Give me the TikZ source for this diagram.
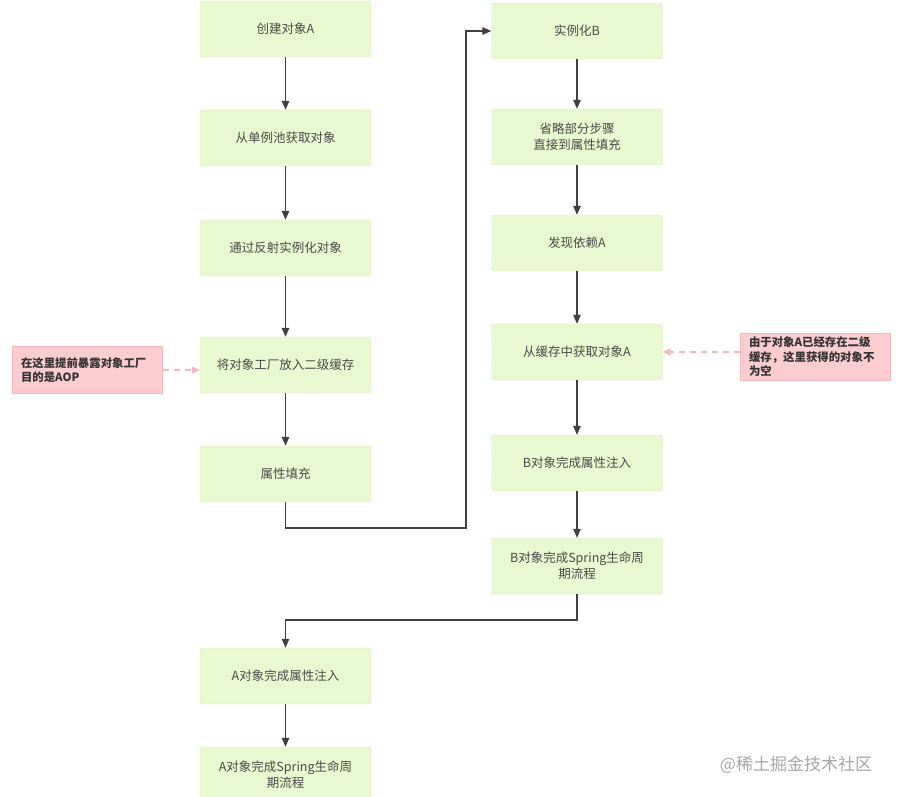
\documentclass[tikz,border=0pt]{standalone}
\usepackage{fontspec}
\setmainfont{Noto Sans CJK SC}
\usetikzlibrary{positioning, arrows.meta}
\definecolor{boxgreen}{HTML}{E8F8D0}
\definecolor{boxline}{HTML}{EDE6C4}
\definecolor{notepink}{HTML}{FBCDD0}
\definecolor{noteline}{HTML}{F4B8BC}
\definecolor{linegray}{HTML}{404040}
\definecolor{textgray}{HTML}{4A4A4A}

\begin{document}
\begin{tikzpicture}[x=1pt,y=-1pt,node distance=110pt,on grid,
    stepbox/.style={rectangle,rounded corners=2pt,fill=boxgreen,draw=boxline,
      minimum width=171pt,minimum height=56pt,align=center,text=textgray,
      font=\fontsize{12.5}{16}\selectfont},
    notebox/.style={rectangle,fill=notepink,draw=noteline,minimum width=150pt,
      minimum height=47pt,text width=133pt,inner xsep=8.5pt,align=left,text=black!80,
      font=\fontsize{11.4}{14.5}\selectfont\bfseries},
    flow/.style={draw=linegray,line width=1.3pt,-{Triangle[length=9pt,width=7.5pt]}},
    hint/.style={draw=noteline,line width=1.2pt,dashed,dash pattern=on 6pt off 5pt,
      -{Triangle[length=8pt,width=7pt,fill=noteline]}}]

    \useasboundingbox (0,0) rectangle (898,797);

    % left column: object A
    \node[stepbox] (a_new)                         at (285.5,29) {创建对象A};
    \node[stepbox] (a_pool)   [below=109pt of a_new]   {从单例池获取对象};
    \node[stepbox] (a_reflect)[below=110pt of a_pool]  {通过反射实例化对象};
    \node[stepbox] (a_cache)  [below=117pt of a_reflect] {将对象工厂放入二级缓存};
    \node[stepbox] (a_fill)   [below=109pt of a_cache] {属性填充};
    \node[stepbox] (a_inject) [below=202pt of a_fill]  {A对象完成属性注入};
    \node[stepbox] (a_done)   [below=99pt of a_inject] {A对象完成Spring生命周\\期流程};

    % right column: object B
    \node[stepbox] (b_new)                         at (577,31) {实例化B};
    \node[stepbox] (b_skip)   [below=106pt of b_new]   {省略部分步骤\\直接到属性填充};
    \node[stepbox] (b_dep)    [below=106pt of b_skip]  {发现依赖A};
    \node[stepbox] (b_get)    [below=109pt of b_dep]   {从缓存中获取对象A};
    \node[stepbox] (b_inject) [below=111pt of b_get]   {B对象完成属性注入};
    \node[stepbox] (b_done)   [below=103pt of b_inject] {B对象完成Spring生命周\\期流程};

    % notes
    \node[notebox] (note_l) at (87.5,370) {在这里提前暴露对象工厂\\目的是AOP};
    \node[notebox] (note_r) at (815.5,357) {由于对象A已经存在二级\\缓存，这里获得的对象不\\为空};

    \node[text=black!35,font=\fontsize{17}{19}\selectfont] (mark) at (796,765) {@稀土掘金技术社区};

    \coordinate (turn_a) at (466,528);
    \coordinate (turn_b) at (285.5,620);

    \path[flow] (a_new) -- (a_pool);
    \path[flow] (a_pool) -- (a_reflect);
    \path[flow] (a_reflect) -- (a_cache);
    \path[flow] (a_cache) -- (a_fill);
    \path[flow] (a_fill) |- (turn_a) |- (b_new);
    \path[flow] (b_new) -- (b_skip);
    \path[flow] (b_skip) -- (b_dep);
    \path[flow] (b_dep) -- (b_get);
    \path[flow] (b_get) -- (b_inject);
    \path[flow] (b_inject) -- (b_done);
    \path[flow] (b_done) |- (turn_b) -- (a_inject);
    \path[flow] (a_inject) -- (a_done);

    \path[hint] (note_l.east) -- (note_l.east -| a_cache.west);
    \path[hint] (note_r.west |- b_get) -- (b_get.east);
\end{tikzpicture}
\end{document}
